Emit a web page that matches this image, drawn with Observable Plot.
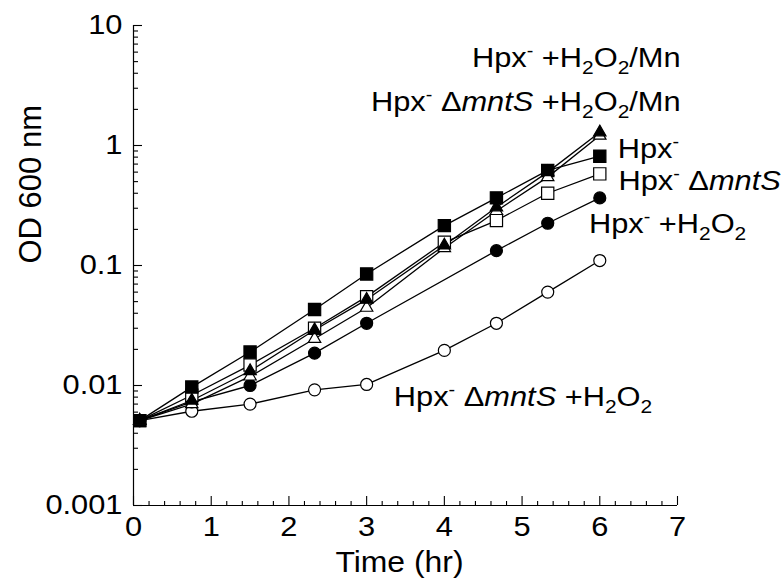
<!DOCTYPE html>
<html>
<head>
<meta charset="utf-8">
<script src="https://cdn.jsdelivr.net/npm/d3@7"></script>
<script src="https://cdn.jsdelivr.net/npm/@observablehq/plot@0.6"></script>
<style>
  html, body { margin: 0; padding: 0; background: white; }
  #chart { width: 781px; height: 588px; }
</style>
</head>
<body>
<div id="chart"></div>
<script>
// ---------------- data ----------------
const times = [0.08, 0.75, 1.5, 2.33, 3, 4, 4.67, 5.33, 6];
const timesNo4 = [0.08, 0.75, 1.5, 2.33, 3, 4.67, 5.33, 6];

const hpx            = [0.0051, 0.0097, 0.019, 0.043, 0.085, 0.215, 0.366, 0.62, 0.815];
const hpxMntS        = [0.0051, 0.0083, 0.0148, 0.030, 0.055, 0.156, 0.237, 0.40, 0.58];
const hpxH2O2        = [0.0051, 0.0073, 0.010, 0.0186, 0.033, 0.133, 0.225, 0.366];
const hpxMntSH2O2    = [0.0051, 0.0061, 0.0070, 0.0092, 0.0102, 0.0196, 0.033, 0.060, 0.11];
const hpxH2O2Mn      = [0.0051, 0.0075, 0.0132, 0.029, 0.052, 0.147, 0.306, 0.60, 1.29];
const hpxMntSH2O2Mn  = [0.0051, 0.0070, 0.0119, 0.0245, 0.0445, 0.14, 0.285, 0.545, 1.21];

const seriesNames = ["Hpx- ΔmntS +H2O2", "Hpx- +H2O2", "Hpx- ΔmntS", "Hpx-", "Hpx- ΔmntS +H2O2/Mn", "Hpx- +H2O2/Mn"];
const seriesTimes = [times, timesNo4, times, times, times, times];
const seriesValues = [hpxMntSH2O2, hpxH2O2, hpxMntS, hpx, hpxMntSH2O2Mn, hpxH2O2Mn];

const xTicks = [0, 1, 2, 3, 4, 5, 6, 7];
const yTicks = [0.001, 0.01, 0.1, 1, 10];

// annotation labels (markup: ^ = superscript char, _ = subscript char, *...* = italic)
const labelText = [
  "Hpx^- +H_2O_2/Mn",
  "Hpx^- Δ*mntS* +H_2O_2/Mn",
  "Hpx^-",
  "Hpx^- Δ*mntS*",
  "Hpx^- +H_2O_2",
  "Hpx^- Δ*mntS* +H_2O_2"
];
const labelX = [7.04, 7.04, 6.23, 6.24, 5.86, 3.35];
const labelY = [5.37, 2.30, 0.937, 0.505, 0.222, 0.0080];
const labelAnchor = ["end", "end", "start", "start", "start", "start"];

// ---------------- styles ----------------
const symbolStyle = [
  {symbol: "circle", fill: "white", r: 6},
  {symbol: "circle", fill: "black", r: 6},
  {symbol: "square", fill: "white", r: 6.9},
  {symbol: "square", fill: "black", r: 6.9},
  {symbol: "triangle", fill: "white", r: 4.6},
  {symbol: "triangle", fill: "black", r: 4.6}
];

// ---------------- build tables ----------------
const rows = seriesNames.flatMap((name, i) =>
  seriesTimes[i].map((t, j) => ({series: name, t, od: seriesValues[i][j]}))
);
const plain = s => s.replace(/[\^_*]/g, "");
const labels = labelText.map((s, i) => ({markup: s, text: plain(s), x: labelX[i], y: labelY[i], anchor: labelAnchor[i]}));

const yMinor = [];
for (let e = -3; e < 1; e++) for (let m = 2; m <= 9; m++) yMinor.push(+(m * Math.pow(10, e)).toPrecision(3));
const xMinor = d3.range(0, 7.0001, 0.2).map(v => +v.toFixed(1)).filter(v => !xTicks.includes(v));

const FONT = "'Liberation Sans', Arial, sans-serif";

const marks = [
  Plot.ruleX([0], {stroke: "black", strokeWidth: 1.2}),
  Plot.ruleY([0.001], {stroke: "black", strokeWidth: 1.2}),
  // y axis labels + inward ticks
  Plot.axisY({anchor: "left", ticks: yTicks, tickSize: 0, tickPadding: 11, tickFormat: d => String(d), fontSize: 28, label: null}),
  Plot.axisY({anchor: "left", ticks: yTicks, tickSize: -9, fill: "none", stroke: "black", strokeWidth: 1.1}),
  Plot.axisY({anchor: "left", ticks: yMinor, tickSize: -5, fill: "none", stroke: "black", strokeWidth: 1.1}),
  // x axis labels + inward ticks
  Plot.axisX({anchor: "bottom", ticks: xTicks, tickSize: 0, tickPadding: 11, tickFormat: d => String(d), fontSize: 28, label: null}),
  Plot.axisX({anchor: "bottom", ticks: xTicks, tickSize: -9, fill: "none", stroke: "black", strokeWidth: 1.1}),
  Plot.axisX({anchor: "bottom", ticks: xMinor, tickSize: -4, fill: "none", stroke: "black", strokeWidth: 1.1}),
  // axis titles
  Plot.text(["Time (hr)"], {frameAnchor: "bottom", text: d => d, dy: 66, dx: -6, fontSize: 29, fill: "black"}),
  Plot.text(["OD 600 nm"], {frameAnchor: "left", text: d => d, rotate: -90, dx: -102, dy: -2, fontSize: 31, fill: "black"}),
  // lines
  Plot.line(rows, {x: "t", y: "od", z: "series", stroke: "black", strokeWidth: 1.3})
];
seriesNames.forEach((name, i) => {
  const st = symbolStyle[i];
  marks.push(Plot.dot(rows.filter(d => d.series === name), {
    x: "t", y: "od", symbol: st.symbol, r: st.r, fill: st.fill, stroke: "black", strokeWidth: 1.2
  }));
});
marks.push(Plot.text(labels.filter(d => d.anchor === "end"), {
  x: "x", y: "y", text: "text", textAnchor: "end", fontSize: 28, fill: "black"
}));
marks.push(Plot.text(labels.filter(d => d.anchor === "start"), {
  x: "x", y: "y", text: "text", textAnchor: "start", fontSize: 28, fill: "black"
}));

const chart = Plot.plot({
  width: 781,
  height: 588,
  marginTop: 25,
  marginRight: 104,
  marginBottom: 83,
  marginLeft: 133,
  style: {fontFamily: FONT, fontSize: "28px", background: "white", color: "black"},
  x: {domain: [0, 7]},
  y: {type: "log", domain: [0.001, 10]},
  marks
});

// rich text: superscripts, subscripts, italics
const svgNS = "http://www.w3.org/2000/svg";
function buildRich(textEl, markup) {
  while (textEl.firstChild) textEl.removeChild(textEl.firstChild);
  const segs = [];
  let italic = false;
  for (let i = 0; i < markup.length; i++) {
    const c = markup[i];
    if (c === "*") { italic = !italic; continue; }
    if (c === "^" || c === "_") { segs.push({t: markup[++i], kind: c === "^" ? "sup" : "sub", italic}); continue; }
    const last = segs[segs.length - 1];
    if (last && last.kind === "norm" && last.italic === italic) last.t += c;
    else segs.push({t: c, kind: "norm", italic});
  }
  let shift = 0;
  segs.forEach(s => {
    const ts = document.createElementNS(svgNS, "tspan");
    ts.textContent = s.t;
    let target = 0;
    if (s.kind === "sup") { target = -10; ts.setAttribute("font-size", "18"); }
    if (s.kind === "sub") { target = 7; ts.setAttribute("font-size", "19"); }
    if (target !== shift) { ts.setAttribute("dy", String(target - shift)); shift = target; }
    if (s.italic) ts.setAttribute("font-style", "italic");
    textEl.appendChild(ts);
  });
}
const byPlain = new Map(labels.map(d => [d.text, d.markup]));
chart.querySelectorAll("text").forEach(el => {
  const m = byPlain.get(el.textContent);
  if (m !== undefined) buildRich(el, m);
  // the reference typeface is slightly wider: widen horizontal texts a little
  const tr = el.getAttribute("transform");
  if (tr && !/rotate/.test(tr)) el.setAttribute("transform", tr + " scale(1.1,1)");
});

document.getElementById("chart").appendChild(chart);
</script>
</body>
</html>
